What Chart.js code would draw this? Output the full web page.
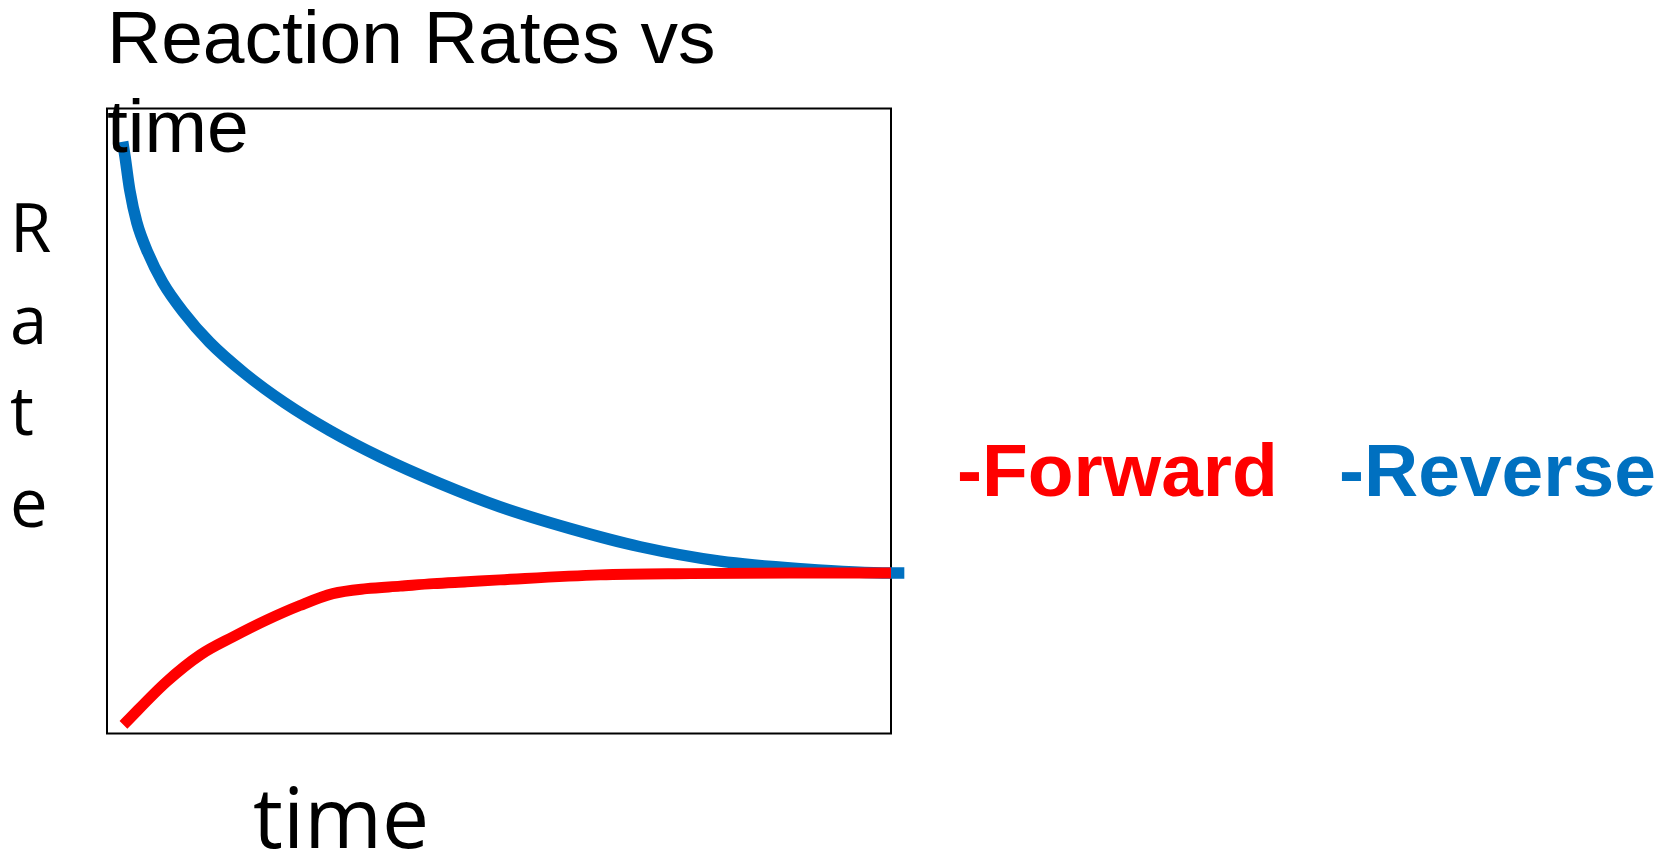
<!DOCTYPE html>
<html>
<head>
<meta charset="utf-8">
<title>Reaction Rates vs time</title>
<script src="https://cdn.jsdelivr.net/npm/chart.js@4.4.1/dist/chart.umd.min.js"></script>
<style>
    html, body { margin: 0; padding: 0; background: #ffffff; }
    #chartWrap { position: relative; width: 1674px; height: 854px; }
</style>
</head>
<body>
<div id="chartWrap"><canvas id="rateChart"></canvas></div>
<script>
// Chart text
const chartTitle = ['Reaction Rates vs', 'time'];
const xAxisLabel = 'time';
const yAxisLabel = 'Rate';

// Forward reaction rate (rises, then levels off)
const forwardTime = [2.1, 7.6, 11.9, 16.1, 20.4, 24.6, 28.8, 33.1, 37.4, 41.6, 45.9, 50.1, 62.9, 74.4, 87.1, 100];
const forwardRate = [1.3, 8.2, 12.5, 15.4, 18.1, 20.4, 22.3, 23.1, 23.5, 23.9, 24.2, 24.5, 25.3, 25.5, 25.6, 25.6];

// Reverse reaction rate (falls, then levels off)
const reverseTime = [2.0, 2.3, 2.9, 3.8, 5.2, 7.1, 9.7, 13.1, 17.6, 22.7, 28.4, 34.8, 42.5, 50.1, 59.1, 68.0, 78.2, 88.4, 99.9, 101.7];
const reverseRate = [94.6, 92.2, 86.9, 81.7, 76.9, 72.1, 67.4, 62.5, 57.5, 52.8, 48.4, 44.2, 39.9, 36.2, 32.7, 29.8, 27.5, 26.3, 25.6, 25.6];

document.addEventListener('DOMContentLoaded', function() {
    if (typeof Chart === 'undefined') {
        console.error('Chart.js is not loaded.');
        return;
    }
    initRateChart();
});

/**
 * Pair up x and y arrays for a linear scale
 */
function toPoints(xs, ys) {
    return xs.map(function(x, i) {
        return { x: x, y: ys[i] };
    });
}

/**
 * Plot frame, title, axis labels and the text legend
 */
const decorPlugin = {
    id: 'decor',
    beforeDatasetsDraw: function(chart) {
        const ctx = chart.ctx;
        const area = chart.chartArea;
        ctx.save();
        ctx.strokeStyle = '#000000';
        ctx.lineWidth = 2;
        ctx.strokeRect(area.left, area.top + 0.5, area.right - area.left, area.bottom - area.top);
        ctx.restore();
    },
    afterDraw: function(chart) {
        const ctx = chart.ctx;
        const area = chart.chartArea;
        ctx.save();
        ctx.fillStyle = '#000000';
        ctx.textAlign = 'left';
        ctx.textBaseline = 'alphabetic';

        // title, two lines, sitting over the top of the frame
        ctx.font = '75px "Liberation Sans", Arial, sans-serif';
        ctx.fillText(chartTitle[0], area.left, 63);
        ctx.fillText(chartTitle[1], area.left, 152);

        // y label, one letter per line
        ctx.font = '67px "Open Sans", sans-serif';
        yAxisLabel.split('').forEach(function(ch, i) {
            ctx.fillText(ch, 10, 252 + i * 91.5);
        });

        // x label
        ctx.font = '84px "Open Sans", sans-serif';
        ctx.fillText(xAxisLabel, 253, 848);

        // legend as coloured text
        ctx.font = 'bold 75px "Liberation Sans", Arial, sans-serif';
        const legendX = [957, 1339];
        chart.data.datasets.forEach(function(ds, i) {
            ctx.fillStyle = ds.borderColor;
            ctx.fillText('-' + ds.label, legendX[i], 496);
        });
        ctx.restore();
    }
};

/**
 * Initialize Reaction Rate Chart
 */
function initRateChart() {
    const rateCtx = document.getElementById('rateChart');
    if (!rateCtx) return;

    const rateData = {
        datasets: [
            {
                label: 'Forward',
                data: toPoints(forwardTime, forwardRate),
                borderColor: '#FF0000',
                borderWidth: 11,
                borderCapStyle: 'butt',
                pointRadius: 0,
                cubicInterpolationMode: 'monotone',
                fill: false
            },
            {
                label: 'Reverse',
                data: toPoints(reverseTime, reverseRate),
                borderColor: '#0070C0',
                borderWidth: 11.5,
                borderCapStyle: 'butt',
                pointRadius: 0,
                cubicInterpolationMode: 'monotone',
                fill: false,
                clip: false
            }
        ]
    };

    new Chart(rateCtx, {
        type: 'line',
        data: rateData,
        plugins: [decorPlugin],
        options: {
            responsive: true,
            maintainAspectRatio: false,
            animation: false,
            layout: {
                padding: { left: 107, top: 108, right: 783, bottom: 121 }
            },
            scales: {
                x: {
                    type: 'linear',
                    min: 0,
                    max: 100,
                    display: false
                },
                y: {
                    type: 'linear',
                    min: 0,
                    max: 100,
                    display: false
                }
            },
            plugins: {
                legend: { display: false },
                tooltip: { enabled: false }
            }
        }
    });
}
</script>
</body>
</html>
